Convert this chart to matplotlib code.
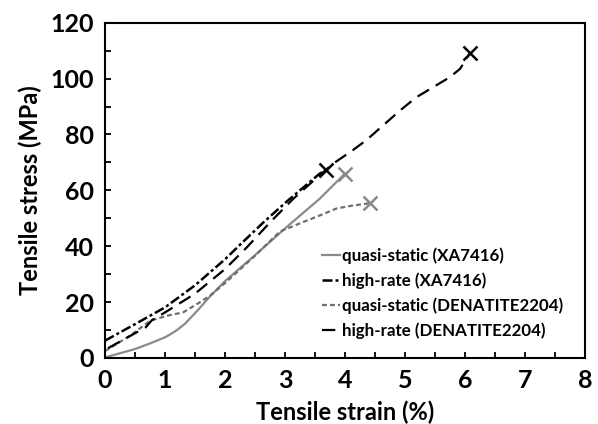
import numpy as np
import matplotlib
matplotlib.use("Agg")
import matplotlib.pyplot as plt
from matplotlib.ticker import MultipleLocator

plt.rcParams['font.family'] = ['Lato', 'DejaVu Sans']

# quasi-static (XA7416)
qs_xa_strain = [0.0, 0.5, 0.75, 1.0, 1.1, 1.2, 1.33, 1.42, 1.5, 1.6, 1.75, 2.0, 2.47, 3.03, 3.58, 4.0]
qs_xa_stress = [0.2, 3.2, 5.2, 7.4, 8.6, 10.0, 12.2, 14.2, 16.0, 18.4, 22.0, 27.5, 36.2, 46.9, 57.0, 66.0]

# high-rate (XA7416)
hr_xa_strain = [0.0, 0.5, 1.0, 1.5, 2.0, 2.25, 2.64, 3.03, 3.36, 3.58, 3.68]
hr_xa_stress = [6.2, 12.1, 18.1, 26.0, 35.3, 40.5, 48.5, 56.0, 62.0, 66.0, 67.1]

# quasi-static (DENATITE2204)
qs_dn_strain = [0.0, 0.42, 0.75, 1.03, 1.3, 1.58, 1.75, 2.0, 2.47, 2.92, 3.31, 3.58, 3.86, 4.14, 4.42]
qs_dn_stress = [2.5, 8.0, 13.3, 15.1, 16.3, 19.9, 22.3, 26.8, 36.0, 45.3, 48.7, 51.0, 53.5, 54.6, 55.4]

# high-rate (DENATITE2204)
hr_dn_strain = [0.05, 0.58, 0.68, 0.78, 1.0, 1.5, 2.0, 2.36, 2.75, 3.14, 3.53, 3.8, 4.14, 4.36,
                4.92, 5.19, 5.75, 5.92, 6.08]
hr_dn_stress = [3.5, 9.8, 11.0, 13.5, 16.3, 23.0, 31.8, 39.5, 48.5, 57.0, 64.5, 69.5, 74.5, 78.0,
                88.6, 93.3, 100.5, 103.5, 109.0]

fig = plt.figure(figsize=(5.98, 4.24), dpi=100)
ax = fig.add_axes([0.1756, 0.1557, 0.8024, 0.7908])

gray = '#8a8a8a'
ax.plot(qs_xa_strain, qs_xa_stress, color=gray, lw=1.6, label='quasi-static (XA7416)')
ax.plot(hr_xa_strain, hr_xa_stress, color='black', lw=1.8, dashes=(4, 1.2, 1.2, 1.2),
        label='high-rate (XA7416)')
ax.plot(qs_dn_strain, qs_dn_stress, color='#6e6e6e', lw=1.6, dashes=(2.2, 1.4),
        label='quasi-static (DENATITE2204)')
ax.plot(hr_dn_strain, hr_dn_stress, color='black', lw=1.6, dashes=(6, 3.5),
        label='high-rate (DENATITE2204)')

# fracture points
ax.plot(qs_xa_strain[-1], qs_xa_stress[-1], 'x', color=gray, ms=10, mew=1.8)
ax.plot(hr_xa_strain[-1], hr_xa_stress[-1], 'x', color='black', ms=10, mew=1.8)
ax.plot(qs_dn_strain[-1], qs_dn_stress[-1], 'x', color=gray, ms=10, mew=1.8)
ax.plot(hr_dn_strain[-1], hr_dn_stress[-1], 'x', color='black', ms=10, mew=1.8)

ax.set_xlim(0, 8)
ax.set_ylim(0, 120)
ax.xaxis.set_major_locator(MultipleLocator(1))
ax.xaxis.set_minor_locator(MultipleLocator(0.5))
ax.yaxis.set_major_locator(MultipleLocator(20))
ax.yaxis.set_minor_locator(MultipleLocator(10))
ax.tick_params(which='both', direction='in', length=4, width=1.3, labelsize=18)
ax.tick_params(axis='x', pad=8)
ax.tick_params(axis='y', pad=8)
for lab in ax.get_xticklabels() + ax.get_yticklabels():
    lab.set_fontweight('bold')
for s in ax.spines.values():
    s.set_linewidth(1.5)

ax.set_xlabel('Tensile strain (%)', fontsize=17, fontweight='bold', labelpad=6)
ax.set_ylabel('Tensile stress (MPa)', fontsize=17, fontweight='bold', labelpad=6)

leg = ax.legend(loc='lower left', bbox_to_anchor=(0.42, 0.012), frameon=False,
                prop={'weight': 'bold', 'size': 12.2}, handlelength=1.1,
                handletextpad=0.1, labelspacing=0.5)

fig.savefig('out.png', dpi=100)
